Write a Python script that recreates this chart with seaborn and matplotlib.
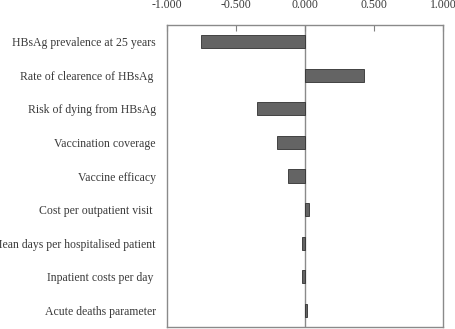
import matplotlib
matplotlib.use("Agg")
import matplotlib.pyplot as plt
import seaborn as sns
import pandas as pd

categories = [
    "HBsAg prevalence at 25 years",
    "Rate of clearence of HBsAg ",
    "Risk of dying from HBsAg",
    "Vaccination coverage",
    "Vaccine efficacy",
    "Cost per outpatient visit ",
    "Mean days per hospitalised patient",
    "Inpatient costs per day ",
    "Acute deaths parameter",
]
values = [-0.754, 0.425, -0.348, -0.203, -0.125, 0.027, -0.024, -0.020, 0.015]
tick_values = [-1.0, -0.5, 0.0, 0.5, 1.0]
tick_labels = ["-1.000", "-0.500", "0.000", "0.500", "1.000"]

sns.set_style("white")
plt.rcParams["font.family"] = ["Liberation Serif", "DejaVu Serif"]

df = pd.DataFrame({"param": categories, "value": values})

fig = plt.figure(figsize=(4.55, 3.29), dpi=100)
ax = fig.add_axes([167 / 455, 1 - 327 / 329, (443 - 167) / 455, (327 - 25) / 329])

sns.barplot(data=df, y="param", x="value", orient="h", color="#646464",
            edgecolor="#303030", linewidth=0.6, width=0.39, saturation=1, ax=ax)

ax.set_xlim(-1, 1)
ax.set_ylim(8.5, -0.5)
ax.axvline(0, color="#8a8a8a", linewidth=1.0, zorder=0.5)
ax.xaxis.tick_top()
ax.set_xticks(tick_values)
ax.set_xticklabels(tick_labels, fontsize=8.5, color="#3a3a3a")
ax.tick_params(axis="x", direction="in", length=4, color="#808080", pad=10, top=True, bottom=False)
ax.tick_params(axis="y", length=0, pad=8, labelsize=8.5, labelcolor="#3a3a3a")
ax.set_xlabel("")
ax.set_ylabel("")
for s in ax.spines.values():
    s.set_color("#8a8a8a")
    s.set_linewidth(1.0)

fig.savefig("out.png", dpi=100)
